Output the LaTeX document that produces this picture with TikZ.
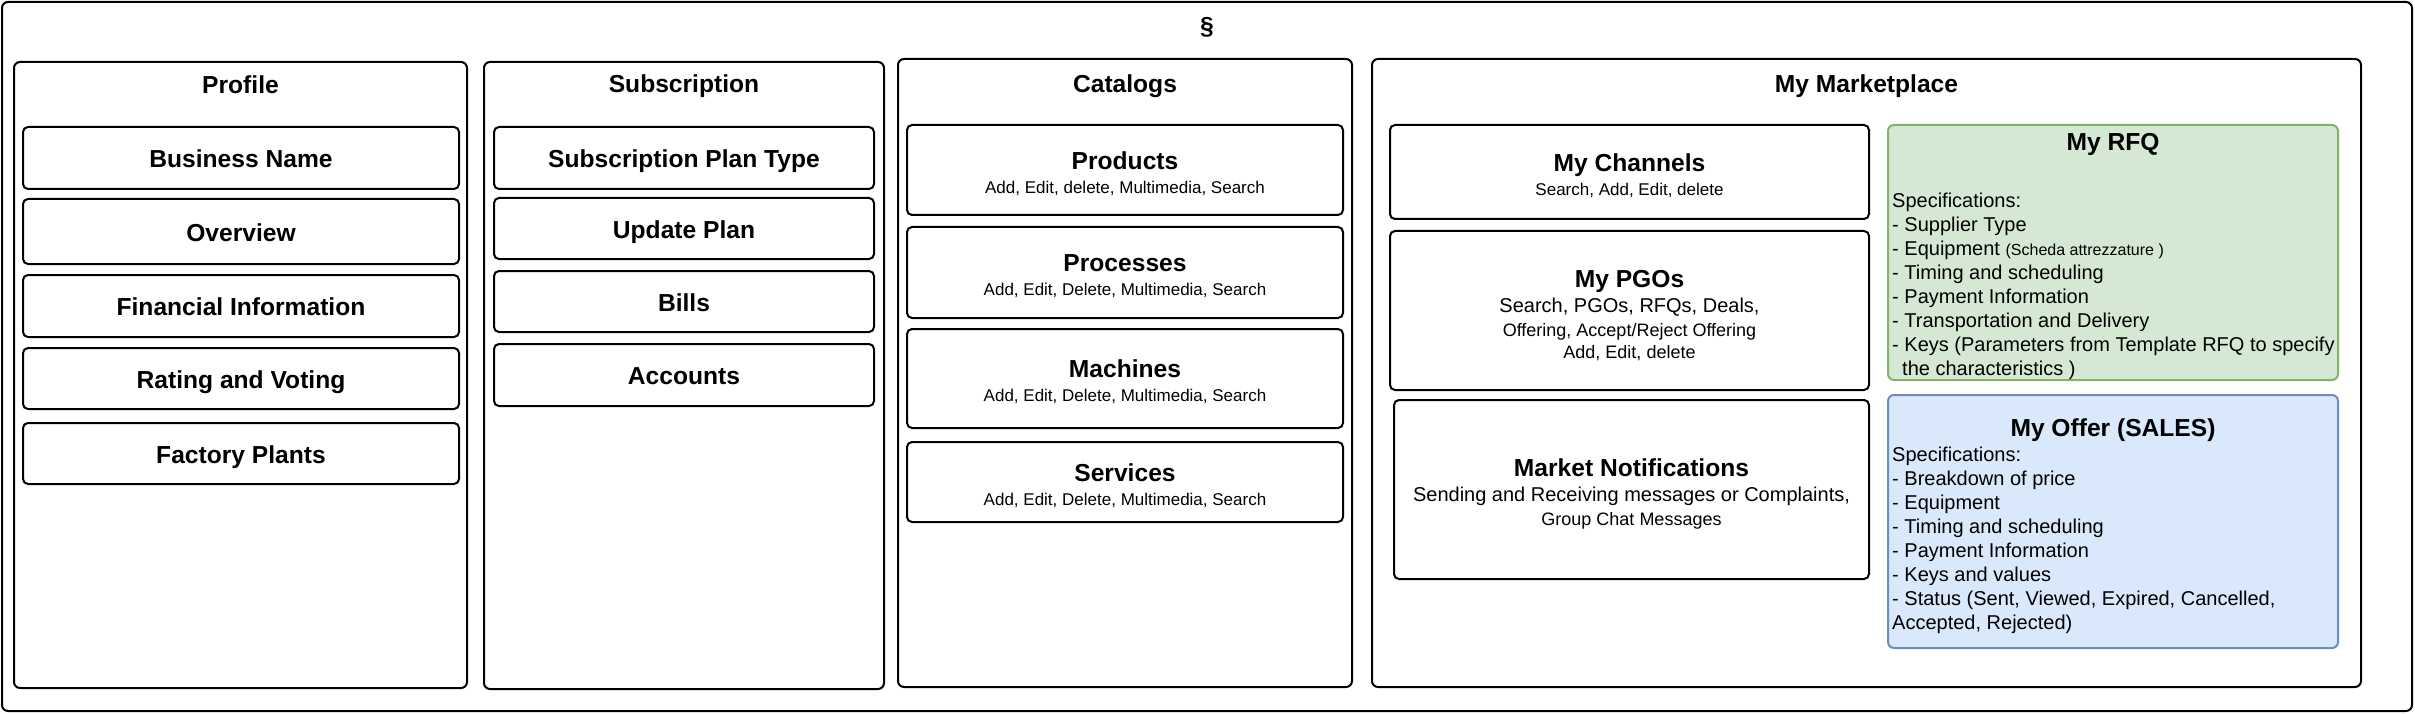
\documentclass[tikz,border=0pt]{standalone}
\usepackage{fontspec}
\setmainfont{Liberation Sans}
\usepackage{xcolor}
\usepackage{tikz}
\usetikzlibrary{positioning,calc}
\definecolor{rfqfill}{HTML}{D5E8D4}
\definecolor{rfqline}{HTML}{82B366}
\definecolor{offerfill}{HTML}{DAE8FC}
\definecolor{offerline}{HTML}{6C8EBF}
\newcommand{\figtitlefont}{\fontsize{24.6pt}{29pt}\selectfont\bfseries}
\newcommand{\figsubfont}{\fontsize{17pt}{24pt}\selectfont}
\newcommand{\figspecfont}{\fontsize{20pt}{24pt}\selectfont}
\newcommand{\figlift}[1]{\rule{0pt}{#1}}
\tikzset{
  figframe/.style={draw, line width=2pt, rounded corners=6pt},
  figcol/.style={draw, line width=2pt, rounded corners=6pt, inner sep=0pt},
  figcoltitle/.style={font=\figtitlefont, inner sep=0pt},
  figitem/.style={draw, line width=2pt, rounded corners=5pt, align=center, inner sep=0pt, font=\figsubfont},
  figitemtitle/.style={figitem, font=\figtitlefont, text height=19.5pt, text depth=0pt},
  figrfq/.style={draw=rfqline, fill=rfqfill, line width=2pt, rounded corners=6pt, inner sep=0pt},
  figoffer/.style={draw=offerline, fill=offerfill, line width=2pt, rounded corners=6pt, inner sep=0pt},
  figspec/.style={anchor=north west, align=left, inner sep=0pt, font=\figspecfont},
}

\begin{document}
\begin{tikzpicture}[x=1pt, y=-1pt]
			\useasboundingbox (0,0) rectangle (2415,714);
			% Outer frame
			\draw[figframe] (2,2) rectangle (2412,711);
			\node[figcoltitle] (maintitle) at (1207,27.5) {§};

			% Columns
			\node[figcol, minimum width=453pt, minimum height=626pt] (profile) at (240.5,375) {};
			\node[figcol, minimum width=400pt, minimum height=627pt] (subscr) at (684,375.5) {};
			\node[figcol, minimum width=454pt, minimum height=628pt] (catalogs) at (1125,373) {};
			\node[figcol, minimum width=989pt, minimum height=628pt] (market) at (1866.5,373) {};
			\node[figcoltitle] (profiletitle) at (240.5,85) {Profile};
			\node[figcoltitle] (subscrtitle) at (684,86) {Subscription};
			\node[figcoltitle] (catalogstitle) at (1125,86) {Catalogs};
			\node[figcoltitle] (markettitle) at (1866.5,86) {My Marketplace};

		% Profile
			\node[figitemtitle, minimum width=436pt, minimum height=62pt] (bizname) at (241,158) {Business Name};
			\node[figitemtitle, minimum width=436pt, minimum height=65pt] (overview) at (241,231.5) {Overview};
			\node[figitemtitle, minimum width=436pt, minimum height=62pt] (fininfo) at (241,306) {Financial Information};
			\node[figitemtitle, minimum width=436pt, minimum height=61pt] (rating) at (241,378.5) {Rating and Voting};
			\node[figitemtitle, minimum width=436pt, minimum height=61pt] (plants) at (241,453.5) {Factory Plants};

		% Subscription
			\node[figitemtitle, minimum width=380pt, minimum height=62pt] (plantype) at (684,158) {Subscription Plan Type};
			\node[figitemtitle, minimum width=380pt, minimum height=61pt] (updplan) at (684,228.5) {Update Plan};
			\node[figitemtitle, minimum width=380pt, minimum height=61pt] (bills) at (684,301.5) {Bills};
			\node[figitemtitle, minimum width=380pt, minimum height=62pt] (accounts) at (684,375) {Accounts};

		% Catalogs
			\node[figitem, minimum width=436pt, minimum height=90pt] (products) at (1125,170) {\figlift{26pt}{\figtitlefont Products}\\Add, Edit, delete, Multimedia, Search};
			\node[figitem, minimum width=436pt, minimum height=91pt] (processes) at (1125,272.5) {\figlift{25pt}{\figtitlefont Processes}\\Add, Edit, Delete, Multimedia, Search};
			\node[figitem, minimum width=436pt, minimum height=99pt] (machines) at (1125,378.5) {\figlift{25pt}{\figtitlefont Machines}\\Add, Edit, Delete, Multimedia, Search};
			\node[figitem, minimum width=436pt, minimum height=80pt] (services) at (1125,482) {\figlift{25pt}{\figtitlefont Services}\\Add, Edit, Delete, Multimedia, Search};

		% My Marketplace
			\node[figitem, minimum width=479pt, minimum height=94pt] (channels) at (1629.5,172) {\figlift{25pt}{\figtitlefont My Channels}\\Search, Add, Edit, delete};
			\node[figitem, minimum width=479pt, minimum height=159pt] (pgos) at (1629.5,310.5) {\figlift{27pt}{\figtitlefont My PGOs}\\[1pt]{\fontsize{20pt}{24pt}\selectfont Search, PGOs, RFQs, Deals,}\\{\fontsize{18pt}{24pt}\selectfont Offering, Accept/Reject Offering}\\[-2pt]{\fontsize{18pt}{24pt}\selectfont Add, Edit, delete}};
			\node[figitem, minimum width=475pt, minimum height=179pt] (notif) at (1631.5,489.5) {\figlift{27pt}{\figtitlefont Market Notifications}\\[1pt]{\fontsize{20pt}{24pt}\selectfont Sending and Receiving messages or Complaints,}\\{\fontsize{18pt}{24pt}\selectfont Group Chat Messages}};

			\node[figrfq, minimum width=450pt, minimum height=255pt] (rfq) at (2113,252.5) {};
			\node[figcoltitle] (rfqtitle) at (2113,144) {My RFQ};
			\node[figspec] (rfqspec) at (1892,193) {Specifications:\\- Supplier Type\\- Equipment {\fontsize{16pt}{24pt}\selectfont(Scheda attrezzature )}\\- Timing and scheduling\\- Payment Information\\- Transportation and Delivery\\- Keys (Parameters from Template RFQ to specify\\\hspace*{10pt}the characteristics )};

			\node[figoffer, minimum width=450pt, minimum height=253pt] (offer) at (2113,521.5) {};
			\node[figcoltitle] (offertitle) at (2113,430) {My Offer (SALES)};
			\node[figspec] (offerspec) at (1892,447) {Specifications:\\- Breakdown of price\\- Equipment\\- Timing and scheduling\\- Payment Information\\- Keys and values\\- Status (Sent, Viewed, Expired, Cancelled,\\Accepted, Rejected)};
		\end{tikzpicture}
\end{document}
